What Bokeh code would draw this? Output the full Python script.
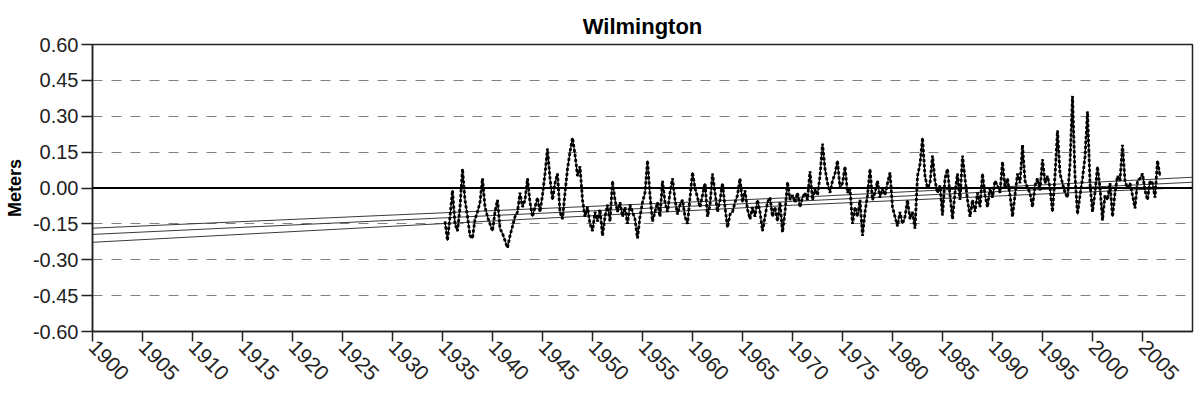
import numpy as np
from bokeh.plotting import figure
from bokeh.models import FixedTicker, NumeralTickFormatter, Span
from bokeh.embed import file_html
from bokeh.resources import INLINE

# ---- data -------------------------------------------------------------
title = "Wilmington"
y_label = "Meters"
x_ticks = list(range(1900, 2006, 5))
y_ticks = [-0.60, -0.45, -0.30, -0.15, 0.00, 0.15, 0.30, 0.45, 0.60]

# quarterly sea-level anomaly (m), first value at 1935.25, step 0.25 yr
start_year = 1935.25
step_years = 0.25
sea_level = [
    -0.14, -0.22, -0.12,                 # 1935
    -0.01, -0.15, -0.18, -0.08,          # 1936
    0.08, -0.05, -0.12, -0.20,           # 1937
    -0.21, -0.13, -0.10, -0.06,          # 1938
    0.04, -0.08, -0.12, -0.15,           # 1939
    -0.18, -0.10, -0.05, -0.17,          # 1940
    -0.19, -0.22, -0.25, -0.20,          # 1941
    -0.16, -0.12, -0.10, -0.02,          # 1942
    -0.08, -0.05, 0.04, -0.06,           # 1943
    -0.12, -0.08, -0.04, -0.10,          # 1944
    -0.03, 0.06, 0.165, 0.04,            # 1945
    -0.05, 0.02, 0.06, -0.10,            # 1946
    -0.13, -0.02, 0.08, 0.15,            # 1947
    0.21, 0.14, 0.05, 0.09,              # 1948
    -0.05, -0.12, -0.08, -0.15,          # 1949
    -0.18, -0.10, -0.14, -0.09,          # 1950
    -0.20, -0.12, -0.07, -0.14,          # 1951
    0.03, -0.05, -0.10, -0.06,           # 1952
    -0.12, -0.08, -0.15, -0.07,          # 1953
    -0.10, -0.13, -0.21, -0.12,          # 1954
    -0.06, -0.02, 0.115, -0.03,          # 1955
    -0.14, -0.10, -0.06, -0.12,          # 1956
    0.03, -0.06, -0.10, -0.02,           # 1957
    0.04, -0.05, -0.11, -0.07,           # 1958
    -0.05, -0.12, -0.15, -0.04,          # 1959
    0.066, 0.00, -0.04, -0.08,           # 1960
    -0.03, 0.02, -0.12, -0.07,           # 1961
    0.06, -0.02, -0.10, -0.05,           # 1962
    0.02, -0.08, -0.165, -0.11,          # 1963
    -0.10, -0.06, -0.03, 0.04,           # 1964
    -0.06, -0.01, -0.09, -0.13,          # 1965
    -0.08, -0.12, -0.05, -0.10,          # 1966
    -0.18, -0.12, -0.06, -0.04,          # 1967
    -0.12, -0.08, -0.14, -0.06,          # 1968
    -0.185, -0.10, 0.025, -0.05,         # 1969
    -0.03, -0.06, -0.02, -0.08,          # 1970
    -0.04, -0.02, -0.05, 0.07,           # 1971
    -0.05, 0.00, -0.03, 0.05,            # 1972
    0.185, 0.08, 0.02, -0.02,            # 1973
    0.03, 0.06, 0.115, 0.00,             # 1974
    0.02, 0.09, -0.02, 0.00,             # 1975
    -0.15, -0.08, -0.12, -0.05,          # 1976
    -0.20, -0.10, -0.03, 0.08,           # 1977
    -0.05, -0.02, 0.03, -0.04,           # 1978
    0.00, -0.03, 0.02, 0.065,            # 1979
    -0.08, -0.12, -0.16, -0.10,          # 1980
    -0.15, -0.12, -0.05, -0.13,          # 1981
    -0.10, -0.17, 0.05, 0.10,            # 1982
    0.21, 0.05, 0.00, 0.02,              # 1983
    0.135, 0.03, -0.02, 0.01,            # 1984
    -0.115, 0.04, 0.08, -0.03,           # 1985
    -0.13, -0.02, 0.06, -0.05,           # 1986
    0.135, 0.04, -0.05, -0.12,           # 1987
    -0.05, -0.10, -0.02, -0.08,          # 1988
    0.06, -0.03, -0.08, 0.00,            # 1989
    -0.04, 0.03, 0.01, -0.02,            # 1990
    0.11, 0.00, 0.04, -0.03,             # 1991
    -0.12, -0.03, 0.06, 0.02,            # 1992
    0.18, 0.03, 0.00, -0.02,             # 1993
    -0.08, 0.01, 0.04, -0.01,            # 1994
    0.12, 0.02, 0.05, 0.00,              # 1995
    -0.10, 0.05, 0.24, 0.06,             # 1996
    0.02, -0.02, -0.04, 0.10,            # 1997
    0.385, 0.05, -0.11, -0.03,           # 1998
    0.04, 0.13, 0.32, 0.02,              # 1999
    -0.10, -0.02, 0.09, 0.00,            # 2000
    -0.135, -0.03, -0.05, 0.02,          # 2001
    -0.12, -0.02, 0.05, 0.03,            # 2002
    0.18, 0.03, 0.00, 0.02,              # 2003
    -0.03, -0.085, 0.03, 0.04,           # 2004
    0.06, -0.01, -0.05, 0.03,            # 2005
    0.02, -0.04, 0.115, 0.05,            # 2006
]

# linear trend and its confidence limits, read at these years
trend_years = [1900, 1930, 1970, 2010]
trend_upper = [-0.168, -0.113, -0.040, 0.045]
trend_mid = [-0.194, -0.135, -0.056, 0.024]
trend_lower = [-0.227, -0.160, -0.072, 0.003]

years = [start_year + step_years * i for i in range(len(sea_level))]

# ---- figure -----------------------------------------------------------
FONT = "Liberation Sans"
p = figure(width=1196, height=399, x_range=(1900, 2010), y_range=(-0.6, 0.6),
           output_backend="svg", toolbar_location=None,
           min_border_left=92, min_border_right=4, min_border_top=44,
           min_border_bottom=68, title=title)
p.title.align = "center"
p.title.text_font = FONT
p.title.text_font_size = "22px"
p.title.text_font_style = "bold"
p.title.text_color = "black"
p.title.standoff = 12

p.outline_line_color = "#222222"
p.outline_line_width = 1.5
p.background_fill_color = "white"
p.border_fill_color = "white"

p.xgrid.visible = False
p.ygrid.ticker = FixedTicker(ticks=[-0.45, -0.30, -0.15, 0.15, 0.30, 0.45])
p.ygrid.grid_line_color = "#808080"
p.ygrid.grid_line_dash = "10 9"
p.ygrid.grid_line_width = 1.2

for ax in (p.xaxis[0], p.yaxis[0]):
    ax.axis_line_color = "#222222"
    ax.axis_line_width = 1.5
    ax.major_tick_line_color = "#222222"
    ax.major_tick_line_width = 1.5
    ax.major_tick_in = 0
    ax.minor_tick_line_color = None
    ax.major_label_text_font = FONT
    ax.major_label_text_color = "#222222"

p.xaxis.ticker = FixedTicker(ticks=x_ticks)
p.xaxis.major_tick_out = 10
p.xaxis.major_label_orientation = -0.8
p.xaxis.major_label_standoff = 2
p.xaxis.major_label_text_font_size = "21px"

p.yaxis.ticker = FixedTicker(ticks=y_ticks)
p.yaxis.formatter = NumeralTickFormatter(format="0.00")
p.yaxis.major_tick_out = 11
p.yaxis.major_label_standoff = 3
p.yaxis.major_label_text_font_size = "20px"
p.yaxis.axis_label = y_label
p.yaxis.axis_label_text_font = FONT
p.yaxis.axis_label_text_font_size = "18px"
p.yaxis.axis_label_text_font_style = "bold"
p.yaxis.axis_label_text_color = "black"
p.yaxis.axis_label_standoff = 5

p.add_layout(Span(location=0, dimension="width", line_color="black", line_width=1.8))

for vals in (trend_upper, trend_mid, trend_lower):
    p.line(trend_years, vals, line_color="#3a3a3a", line_width=1.0)

p.line(years, sea_level, line_color="black", line_width=1.2)
p.line(years, sea_level, line_color="black", line_width=2.8, line_dash="3 2")

open("out.html", "w").write(file_html(p, INLINE))
